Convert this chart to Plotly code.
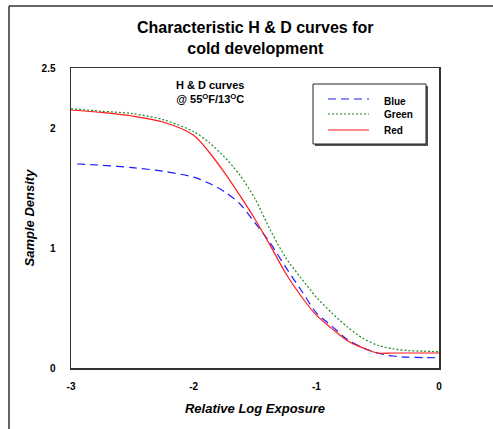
import plotly.graph_objects as go

# ---- data ----
x_common = [-3.0, -2.75, -2.5, -2.25, -2.0, -1.875, -1.75, -1.625, -1.5, -1.375,
            -1.25, -1.125, -1.0, -0.875, -0.75, -0.625, -0.5, -0.375, -0.25, -0.125, 0.0]
x_blue = [-2.95, -2.75, -2.5, -2.25, -2.0, -1.875, -1.75, -1.625, -1.5, -1.375,
          -1.25, -1.125, -1.0, -0.875, -0.75, -0.625, -0.5, -0.375, -0.25, -0.125, 0.0]
blue = [1.70, 1.69, 1.67, 1.64, 1.59, 1.54, 1.47, 1.37, 1.21, 1.04,
        0.84, 0.65, 0.46, 0.35, 0.24, 0.17, 0.125, 0.10, 0.09, 0.087, 0.085]
green = [2.16, 2.14, 2.12, 2.07, 1.97, 1.88, 1.76, 1.61, 1.41, 1.15,
         0.92, 0.75, 0.59, 0.46, 0.345, 0.25, 0.19, 0.16, 0.145, 0.14, 0.135]
red = [2.15, 2.13, 2.10, 2.05, 1.94, 1.80, 1.63, 1.44, 1.24, 1.02,
       0.79, 0.60, 0.44, 0.33, 0.23, 0.17, 0.125, 0.125, 0.125, 0.125, 0.125]

series_names = ["Blue", "Green", "Red"]
series_colors = ["#1a1aff", "#1f8a1f", "#ff1a1a"]
series_dash = ["8px,5px", "2px,2px", "solid"]

x_ticks = [-3, -2, -1, 0]
x_ticktext = ["-3", "-2", "-1", "0"]
y_ticks = [0, 1, 2, 2.5]
y_ticktext = ["0", "1", "2", "2.5"]
inner_x_ticks = [-2, -1]
inner_y_ticks = [1, 2]

FONT = "Liberation Sans, Arial, sans-serif"
AXC = "#333333"

# plot area in pixels: left 71, right 439, top 68, bottom 368
L, R, T, B = 71, 439, 68, 368
PW, PH = R - L, B - T


def px_x(px):
    return (px - L) / PW


def px_y(py):
    return (B - py) / PH


fig = go.Figure()
for xs, ys, nm, col, dsh in zip([x_blue, x_common, x_common], [blue, green, red],
                                series_names, series_colors, series_dash):
    fig.add_trace(go.Scatter(x=xs, y=ys, mode="lines", name=nm, showlegend=False,
                             hoverinfo="skip",
                             line=dict(color=col, width=1.2, dash=dsh, shape="spline",
                                       smoothing=0.8)))

fig.update_layout(
    width=493, height=429,
    margin=dict(l=L, r=493 - R, t=T, b=429 - B),
    paper_bgcolor="white", plot_bgcolor="white",
    font=dict(family=FONT, color="black", size=10),
    xaxis=dict(range=[-3, 0], tickvals=x_ticks, ticktext=[f"<b>{t}</b>" for t in x_ticktext],
               ticks="", showline=True, linecolor=AXC, linewidth=1.5, mirror=True,
               showgrid=False, zeroline=False, ticklabelstandoff=8,
               title=dict(text="<b><i>Relative Log Exposure</i></b>", standoff=13,
                          font=dict(size=13, family=FONT))),
    yaxis=dict(range=[0, 2.5], tickvals=y_ticks, ticktext=[f"<b>{t}</b>" for t in y_ticktext],
               ticks="", showline=True, linecolor=AXC, linewidth=1.5, mirror=True,
               showgrid=False, zeroline=False, ticklabelstandoff=12,
               title=dict(text="<b><i>Sample Density</i></b>", standoff=4,
                          font=dict(size=13, family=FONT))),
    xaxis2=dict(range=[-3, 0], overlaying="x", anchor="y", tickvals=inner_x_ticks,
                ticks="outside", ticklen=5, tickcolor=AXC, tickwidth=1.2,
                showticklabels=False, showline=False, showgrid=False, zeroline=False, side="bottom"),
    xaxis3=dict(range=[-3, 0], overlaying="x", anchor="y", tickvals=inner_x_ticks,
                ticks="inside", ticklen=5, tickcolor=AXC, tickwidth=1.2,
                showticklabels=False, showline=False, showgrid=False, zeroline=False, side="bottom"),
    yaxis2=dict(range=[0, 2.5], overlaying="y", anchor="x", tickvals=inner_y_ticks,
                ticks="outside", ticklen=5, tickcolor=AXC, tickwidth=1.2,
                showticklabels=False, showline=False, showgrid=False, zeroline=False, side="left"),
    yaxis3=dict(range=[0, 2.5], overlaying="y", anchor="x", tickvals=inner_y_ticks,
                ticks="inside", ticklen=5, tickcolor=AXC, tickwidth=1.2,
                showticklabels=False, showline=False, showgrid=False, zeroline=False, side="left"),
    showlegend=False,
)

# title
fig.add_annotation(text="<b>Characteristic H & D curves for<br>cold development</b>",
                   xref="paper", yref="paper", x=0.5, y=px_y(37.5),
                   showarrow=False, font=dict(size=16, family=FONT, color="black"),
                   xanchor="center", yanchor="middle")

# annotation inside plot
fig.add_annotation(text="<b>H & D curves<br>@ 55<sup>O</sup>F/13<sup>O</sup>C</b>",
                   xref="paper", yref="paper", x=px_x(210), y=px_y(92),
                   showarrow=False, font=dict(size=11, family=FONT, color="black"),
                   xanchor="center", yanchor="middle")

# legend box (with shadow)
fig.add_shape(type="rect", xref="paper", yref="paper",
              x0=px_x(315), x1=px_x(428), y0=px_y(146), y1=px_y(86),
              line=dict(width=0), fillcolor="#555555")
fig.add_shape(type="rect", xref="paper", yref="paper",
              x0=px_x(313), x1=px_x(426), y0=px_y(144), y1=px_y(84),
              line=dict(color="#222222", width=1), fillcolor="white")
legend_line_y = [99, 114, 130]
legend_text_y = [102, 115, 130]
for nm, col, dsh, ly, ty in zip(series_names, series_colors, series_dash,
                                legend_line_y, legend_text_y):
    fig.add_shape(type="line", xref="paper", yref="paper",
                  x0=px_x(328), x1=px_x(369), y0=px_y(ly), y1=px_y(ly),
                  line=dict(color=col, width=1.2, dash=dsh))
    fig.add_annotation(text=f"<b>{nm}</b>", xref="paper", yref="paper",
                       x=px_x(382), y=px_y(ty), showarrow=False, xanchor="left",
                       yanchor="middle", font=dict(size=10, family=FONT, color="black"))

# outer frame (only top and left edges visible in the canvas)
fx = px_x(9)
fy = px_y(6)
fig.add_shape(type="line", xref="paper", yref="paper", x0=fx, y0=-0.3, x1=fx, y1=fy,
              line=dict(color="#333333", width=1.5))
fig.add_shape(type="line", xref="paper", yref="paper", x0=fx, y0=fy, x1=1.3, y1=fy,
              line=dict(color="#333333", width=1.5))

fig.write_html("out.html", post_script="document.body.style.margin='0px';",
               config={"displayModeBar": False, "staticPlot": True})
